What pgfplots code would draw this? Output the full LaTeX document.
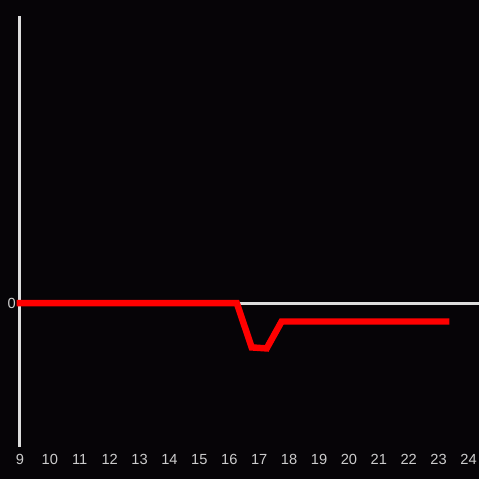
\documentclass[border=0pt]{standalone}
\usepackage{fontspec}
\setmainfont{Liberation Sans}
\usepackage{pgfplots}
\pgfplotsset{compat=1.18}
\definecolor{bg}{HTML}{060407}
\definecolor{axcol}{HTML}{DDDDDD}
\definecolor{labcol}{HTML}{CCCCCC}
\begin{document}
\begin{tikzpicture}[x=1pt,y=1pt]
\fill[bg] (0,0) rectangle (480,480);
\begin{axis}[
  at={(20pt,32pt)}, anchor=south west,
  scale only axis, width=460pt, height=432pt,
  xmin=9, xmax=24.3333, ymin=-144, ymax=288,
  axis lines*=left,
  x axis line style={draw=none},
  y axis line style={draw=axcol, line width=3pt, -},
  xtick={9,...,24}, ytick={0},
  major tick length=0pt,
  tick style={draw=none},
  ticklabel style={font=\fontsize{14.7}{17}\selectfont, text=labcol},
  xticklabel style={inner sep=0pt, anchor=north, yshift=-7pt, text height=10.5pt, text depth=0pt},
  yticklabel style={inner sep=0pt, anchor=east, xshift=-4pt},
  /pgf/number format/assume math mode=true,
  clip=false,
]
\addplot[draw=axcol, line width=3pt] coordinates {(9,0) (24.3333,0)};
\addplot[draw=red, line width=6.5pt, line join=miter, line cap=rect, mark=none] coordinates {
(9,0) (9.5,0) (10,0) (10.5,0) (11,0) (11.5,0) (12,0) (12.5,0) (13,0) (13.5,0) (14,0) (14.5,0) (15,0) (15.5,0) (16,0) (16.25,0)
(16.75,-44.5) (17.25,-45.5) (17.75,-18.5)
(18.25,-18.5) (18.75,-18.5) (19.25,-18.5) (19.75,-18.5) (20.25,-18.5) (20.75,-18.5) (21.25,-18.5) (21.75,-18.5) (22.25,-18.5) (22.75,-18.5) (23.25,-18.5)
};
\end{axis}
\end{tikzpicture}
\end{document}
